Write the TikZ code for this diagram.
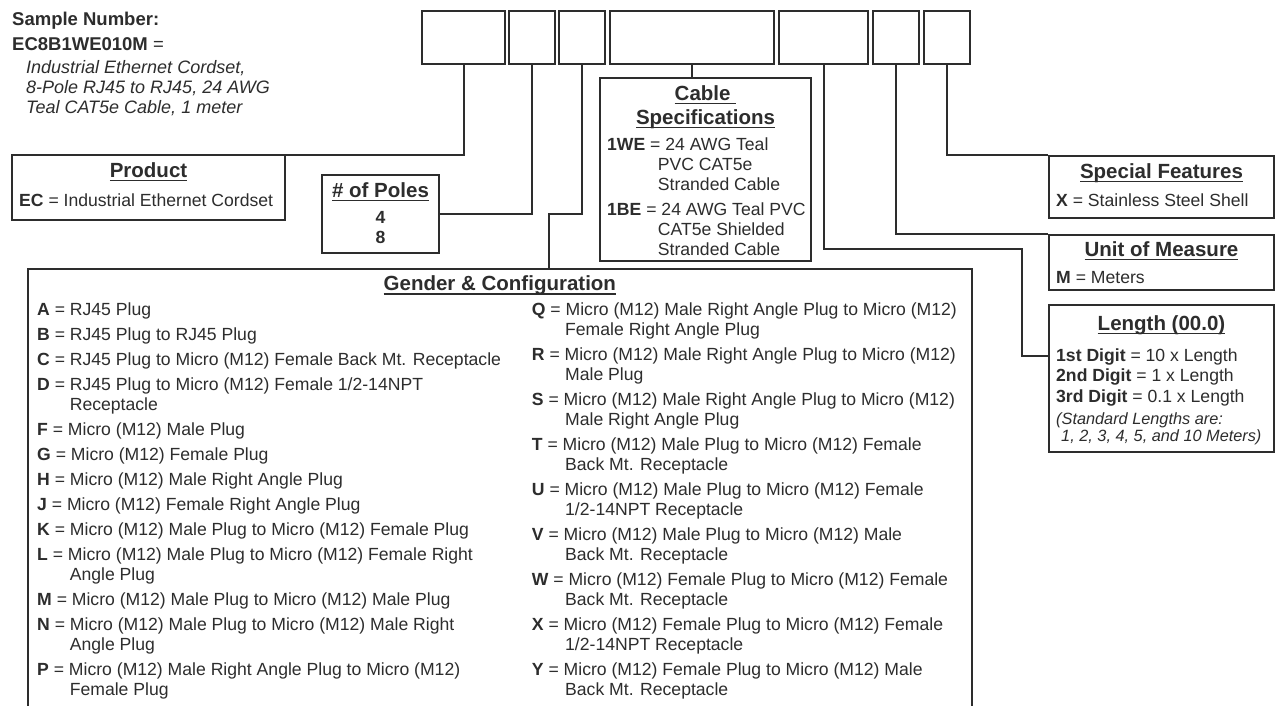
\documentclass[tikz,border=0pt]{standalone}
\usepackage{fontspec}
\setmainfont{Liberation Sans}
\definecolor{ink}{RGB}{45,45,45}
\newcommand{\ttlu}[1]{\setbox0\hbox{#1}\rlap{\vrule width\wd0 height -2.5pt depth 4.3pt}\box0}
\begin{document}
\begin{tikzpicture}[x=1pt,y=-1pt,
  box/.style={draw=ink, line width=2pt, rectangle, inner sep=0pt},
  wire/.style={draw=ink, line width=2pt},
  txt/.style={anchor=base west, inner sep=0pt, text=ink, font=\fontsize{17.6}{20}\selectfont},
  ttl/.style={anchor=base, inner sep=0pt, text=ink, font=\bfseries\fontsize{20.5}{22}\selectfont},
  itx/.style={txt, font=\itshape\fontsize{18}{20}\selectfont},
  ltx/.style={txt, font=\itshape\fontsize{16.3}{18}\selectfont},
  hdr/.style={txt, font=\bfseries\fontsize{18.5}{20}\selectfont},
]
\useasboundingbox (0,0) rectangle (1277,705);
\clip (0,0) rectangle (1277,705);
\fill[white] (0,0) rectangle (1277,705);

% top code boxes
\node[box, minimum width=83pt,  minimum height=53pt] (b1) at (463.5,37.5) {};
\node[box, minimum width=46pt,  minimum height=53pt] (b2) at (532,37.5) {};
\node[box, minimum width=46pt,  minimum height=53pt] (b3) at (582,37.5) {};
\node[box, minimum width=164pt, minimum height=53pt] (b4) at (692,37.5) {};
\node[box, minimum width=89pt,  minimum height=53pt] (b5) at (823.5,37.5) {};
\node[box, minimum width=45.5pt,minimum height=53pt] (b6) at (895.75,37.5) {};
\node[box, minimum width=46pt,  minimum height=53pt] (b7) at (947,37.5) {};

% description boxes
\node[box, minimum width=273pt, minimum height=65pt] (prod) at (148.5,187.5) {};
\node[box, minimum width=117pt, minimum height=78pt] (poles) at (380.5,214) {};
\node[box, minimum width=211pt, minimum height=183pt] (cable) at (705.5,169.5) {};
\node[box, minimum width=225pt, minimum height=62pt] (spec) at (1161.5,187) {};
\node[box, minimum width=225pt, minimum height=55pt] (unit) at (1161.5,262.5) {};
\node[box, minimum width=225pt, minimum height=147pt] (len) at (1161.5,378.5) {};
\node[box, minimum width=943.7pt, minimum height=471pt] (gen) at (499.85,504.5) {};

% connectors
\coordinate (pj) at (167,155);
\draw[wire] (b1.south) |- (pj);
\draw[wire] (b2.south) |- (poles.east);
\coordinate (gj) at (549,213.5);
\draw[wire] (b3.south) |- (gj) -- (gj |- gen.north);
\draw[wire] (b4.south) -- (b4.south |- cable.north);
\coordinate (lj) at (1021.7,249);
\coordinate (le) at (1049,356);
\draw[wire] (b5.south) |- (lj) |- (le);
\draw[wire] (b6.south) |- (unit.north west);
\draw[wire] (b7.south) |- (spec.north west);

% sample number
\node[hdr] (sn1) at (12,25) {Sample Number:};
\node[txt, font=\fontsize{18.5}{20}\selectfont] (sn2) at (12,50) {\textbf{EC8B1WE010M} =};
\node[itx] (sn3) at (26,73) {Industrial Ethernet Cordset,};
\node[itx] (sn4) at (26,93) {8-Pole RJ45 to RJ45, 24 AWG};
\node[itx] (sn5) at (26,113) {Teal CAT5e Cable, 1 meter};

% product
\node[ttl] (prodT) at (148.5,177) {\ttlu{Product}};
\node[txt] (prodA) at (19,206) {\textbf{EC} = Industrial Ethernet Cordset};

% poles
\node[ttl] (polT) at (380.5,197) {\ttlu{\# of Poles}};
\node[ttl, font=\bfseries\fontsize{17.6}{20}\selectfont] (pol4) at (380.5,223) {4};
\node[ttl, font=\bfseries\fontsize{17.6}{20}\selectfont] (pol8) at (380.5,243) {8};

% cable
\node[ttl] (cabT1) at (705.5,100) {\ttlu{Cable\ }};
\node[ttl] (cabT2) at (705.5,124) {\ttlu{Specifications}};
\node[txt] (cab1) at (607,150) {\textbf{1WE} = 24 AWG Teal};
\node[txt] (cab2) at (657.7,170) {PVC CAT5e};
\node[txt] (cab3) at (657.7,190) {Stranded Cable};
\node[txt] (cab4) at (607,215) {\textbf{1BE} = 24 AWG Teal PVC};
\node[txt] (cab5) at (657.7,235) {CAT5e Shielded};
\node[txt] (cab6) at (657.7,255) {Stranded Cable};

% special features
\node[ttl] (specT) at (1161.5,178) {\ttlu{Special Features}};
\node[txt] (specA) at (1056,206.5) {\textbf{X} = Stainless Steel Shell};

% unit
\node[ttl] (unitT) at (1161.5,256) {\ttlu{Unit of Measure}};
\node[txt] (unitA) at (1056,283) {\textbf{M} = Meters};

% length
\node[ttl] (lenT) at (1161.5,330) {\ttlu{Length (00.0)}};
\node[txt] (len1) at (1056,361.5) {\textbf{1st Digit} = 10 x Length};
\node[txt] (len2) at (1056,381.5) {\textbf{2nd Digit} = 1 x Length};
\node[txt] (len3) at (1056,402.5) {\textbf{3rd Digit} = 0.1 x Length};
\node[ltx] (len4) at (1056,424) {(Standard Lengths are:};
\node[ltx] (len5) at (1061,441) {1, 2, 3, 4, 5, and 10 Meters)};

% gender & configuration
\node[ttl] (genT) at (499.85,290.5) {\ttlu{Gender \& Configuration}};

\node[txt] (gA) at (37,315.5) {\textbf{A} = RJ45 Plug};
\node[txt] (gB) at (37,340.5) {\textbf{B} = RJ45 Plug to RJ45 Plug};
\node[txt] (gC) at (37,365.5) {\textbf{C} = RJ45 Plug to Micro (M12) Female Back Mt. Receptacle};
\node[txt] (gD) at (37,390.5) {\textbf{D} = RJ45 Plug to Micro (M12) Female 1/2-14NPT};
\node[txt] (gD2) at (69.6,410.5) {Receptacle};
\node[txt] (gF) at (37,435.5) {\textbf{F} = Micro (M12) Male Plug};
\node[txt] (gG) at (37,460.5) {\textbf{G} = Micro (M12) Female Plug};
\node[txt] (gH) at (37,485.5) {\textbf{H} = Micro (M12) Male Right Angle Plug};
\node[txt] (gJ) at (37,510.5) {\textbf{J} = Micro (M12) Female Right Angle Plug};
\node[txt] (gK) at (37,535.5) {\textbf{K} = Micro (M12) Male Plug to Micro (M12) Female Plug};
\node[txt] (gL) at (37,560.5) {\textbf{L} = Micro (M12) Male Plug to Micro (M12) Female Right};
\node[txt] (gL2) at (69.6,580.5) {Angle Plug};
\node[txt] (gM) at (37,605.5) {\textbf{M} = Micro (M12) Male Plug to Micro (M12) Male Plug};
\node[txt] (gN) at (37,630.5) {\textbf{N} = Micro (M12) Male Plug to Micro (M12) Male Right};
\node[txt] (gN2) at (69.6,650.5) {Angle Plug};
\node[txt] (gP) at (37,675.5) {\textbf{P} = Micro (M12) Male Right Angle Plug to Micro (M12)};
\node[txt] (gP2) at (69.6,695.5) {Female Plug};

\node[txt] (gQ) at (531.7,315.5) {\textbf{Q} = Micro (M12) Male Right Angle Plug to Micro (M12)};
\node[txt] (gQ2) at (565,335.5) {Female Right Angle Plug};
\node[txt] (gR) at (531.7,360.5) {\textbf{R} = Micro (M12) Male Right Angle Plug to Micro (M12)};
\node[txt] (gR2) at (565,380.5) {Male Plug};
\node[txt] (gS) at (531.7,405.5) {\textbf{S} = Micro (M12) Male Right Angle Plug to Micro (M12)};
\node[txt] (gS2) at (565,425.5) {Male Right Angle Plug};
\node[txt] (gT) at (531.7,450.5) {\textbf{T} = Micro (M12) Male Plug to Micro (M12) Female};
\node[txt] (gT2) at (565,470.5) {Back Mt. Receptacle};
\node[txt] (gU) at (531.7,495.5) {\textbf{U} = Micro (M12) Male Plug to Micro (M12) Female};
\node[txt] (gU2) at (565,515.5) {1/2-14NPT Receptacle};
\node[txt] (gV) at (531.7,540.5) {\textbf{V} = Micro (M12) Male Plug to Micro (M12) Male};
\node[txt] (gV2) at (565,560.5) {Back Mt. Receptacle};
\node[txt] (gW) at (531.7,585.5) {\textbf{W} = Micro (M12) Female Plug to Micro (M12) Female};
\node[txt] (gW2) at (565,605.5) {Back Mt. Receptacle};
\node[txt] (gX) at (531.7,630.5) {\textbf{X} = Micro (M12) Female Plug to Micro (M12) Female};
\node[txt] (gX2) at (565,650.5) {1/2-14NPT Receptacle};
\node[txt] (gY) at (531.7,675.5) {\textbf{Y} = Micro (M12) Female Plug to Micro (M12) Male};
\node[txt] (gY2) at (565,695.5) {Back Mt. Receptacle};
\end{tikzpicture}
\end{document}
